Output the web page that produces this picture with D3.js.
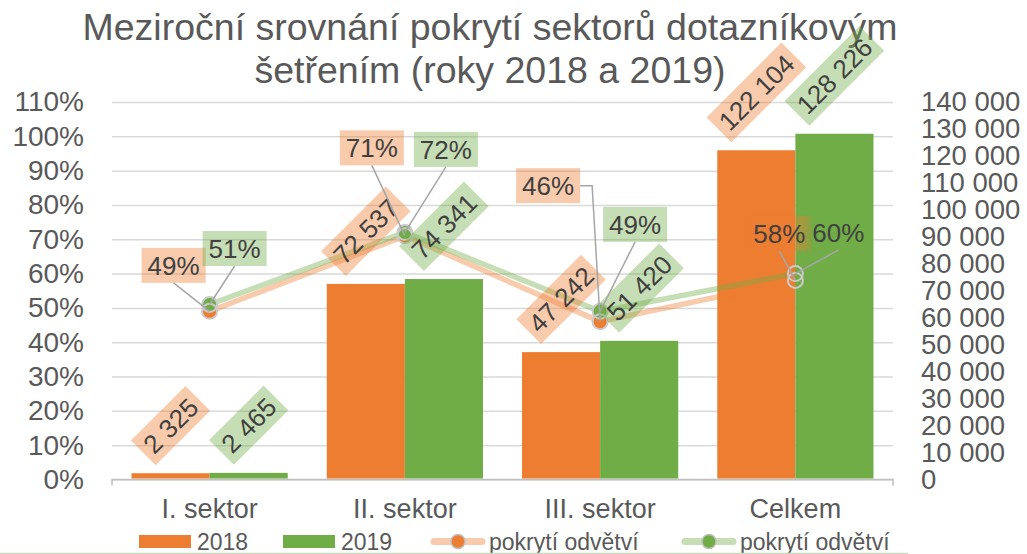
<!DOCTYPE html>
<html>
<head>
<meta charset="utf-8">
<script src="https://cdn.jsdelivr.net/npm/d3@7"></script>
<style>
  html, body { margin: 0; padding: 0; background: #fff; }
  svg { display: block; font-family: "Liberation Sans", Arial, sans-serif; }
</style>
</head>
<body>
<svg id="chart" width="1027" height="554"></svg>
<script>
// ---- data ----
const categories = ["I. sektor", "II. sektor", "III. sektor", "Celkem"];
const years = ["2018", "2019"];
const respondents2018 = [2325, 72537, 47242, 122104];
const respondents2019 = [2465, 74341, 51420, 128226];
const coverage2018 = [0.49, 0.71, 0.46, 0.58];
const coverage2019 = [0.51, 0.72, 0.49, 0.60];
const pctTicks = [0, 0.1, 0.2, 0.3, 0.4, 0.5, 0.6, 0.7, 0.8, 0.9, 1.0, 1.1];
const countTicks = [0, 10000, 20000, 30000, 40000, 50000, 60000, 70000,
                    80000, 90000, 100000, 110000, 120000, 130000, 140000];
const titleLines = ["Meziroční srovnání pokrytí sektorů dotazníkovým",
                    "šetřením (roky 2018 a 2019)"];
const legendLabels = ["2018", "2019", "pokrytí odvětví", "pokrytí odvětví"];

// ---- layout / style ----
const W = 1027, H = 554;
const plot = { left: 112, right: 893, top: 102, bottom: 479.5 };
const colors = { "2018": "#ED7D31", "2019": "#70AD47" };
const soft = { "2018": "rgba(237,125,49,0.4)", "2019": "rgba(112,173,71,0.4)" };
const textGray = "#595959", labelInk = "#404040";
// nudges of the percentage labels relative to their markers [dx, dy, elbow]
const pctLabelNudge = {
  "2018": [[-36, -46, 0], [-33, -88, 0], [-52, -136, 1], [-16, -47, 0]],
  "2019": [[25, -56, 0], [41, -83, 0], [35, -87, 0], [43, -41, 0]]
};

const svg = d3.select("#chart");
const fmtCount = v => d3.format(",")(v).replace(/,/g, " ");
const fmtPct = d3.format(".0%");

const x = d3.scaleBand().domain(categories).range([plot.left, plot.right])
  .paddingInner(0.2).paddingOuter(0.1);
const xs = d3.scaleBand().domain(years).range([0, x.bandwidth()]);
const yPct = d3.scaleLinear().domain([0, 1.1]).range([plot.bottom, plot.top]);
const yCnt = d3.scaleLinear().domain([0, 140000]).range([plot.bottom, plot.top]);

const counts = { "2018": respondents2018, "2019": respondents2019 };
const coverage = { "2018": coverage2018, "2019": coverage2019 };

// ---- title ----
svg.append("g").selectAll("text").data(titleLines).join("text")
  .attr("x", 490).attr("y", (d, i) => 40 + i * 43)
  .attr("text-anchor", "middle")
  .attr("font-size", 37.5).attr("fill", textGray)
  .text(d => d);

// ---- left axis with gridlines ----
const gLeft = svg.append("g").attr("transform", `translate(${plot.left},0)`)
  .call(d3.axisLeft(yPct).tickValues(pctTicks).tickFormat(fmtPct)
    .tickSizeInner(-(plot.right - plot.left)).tickSizeOuter(0).tickPadding(28));
gLeft.select(".domain").remove();
gLeft.selectAll(".tick line").attr("stroke", "#d9d9d9").attr("stroke-width", 1.5);
gLeft.selectAll(".tick text").attr("font-size", 28).attr("fill", textGray)
  .attr("font-family", "Liberation Sans, Arial, sans-serif");

// ---- right axis ----
const gRight = svg.append("g").attr("transform", `translate(${plot.right},0)`)
  .call(d3.axisRight(yCnt).tickValues(countTicks).tickFormat(fmtCount)
    .tickSize(0).tickPadding(28));
gRight.select(".domain").remove();
gRight.selectAll(".tick text").attr("font-size", 27.5).attr("fill", textGray)
  .attr("font-family", "Liberation Sans, Arial, sans-serif");

// ---- category axis ----
const gBottom = svg.append("g").attr("transform", `translate(0,${plot.bottom})`)
  .call(d3.axisBottom(x).tickSize(0).tickPadding(19));
gBottom.select(".domain").remove();
gBottom.selectAll(".tick text").attr("font-size", 27).attr("fill", textGray)
  .attr("font-family", "Liberation Sans, Arial, sans-serif");
svg.append("path")
  .attr("d", `M${plot.left},${plot.bottom + 6}V${plot.bottom}H${plot.right}V${plot.bottom + 6}`)
  .attr("fill", "none").attr("stroke", "#bfbfbf").attr("stroke-width", 1.5);

// ---- series geometry ----
const markers = [];
years.forEach(yr => coverage[yr].forEach((v, i) => {
  markers.push({ yr, i, v, cx: x(categories[i]) + x.bandwidth() / 2, cy: yPct(v) });
}));

// marker fills sit beneath the columns
const gMarkFill = svg.append("g");
gMarkFill.selectAll("circle").data(markers).join("circle")
  .attr("cx", d => d.cx).attr("cy", d => d.cy).attr("r", 7.5)
  .attr("fill", d => colors[d.yr]);

// ---- columns ----
const gBars = svg.append("g");
years.forEach(yr => {
  gBars.selectAll(`rect.y${yr}`).data(counts[yr]).join("rect")
    .attr("class", `y${yr}`)
    .attr("x", (d, i) => x(categories[i]) + xs(yr))
    .attr("width", xs.bandwidth())
    .attr("y", d => yCnt(d))
    .attr("height", d => plot.bottom - 1 - yCnt(d))
    .attr("fill", colors[yr]);
});

// ---- coverage lines (kept out of the marker disks) ----
const defs = svg.append("defs");
const mask = defs.append("mask").attr("id", "marker-holes")
  .attr("maskUnits", "userSpaceOnUse").attr("x", 0).attr("y", 0)
  .attr("width", W).attr("height", H);
mask.append("rect").attr("width", W).attr("height", H).attr("fill", "#fff");
mask.selectAll("circle").data(markers).join("circle")
  .attr("cx", d => d.cx).attr("cy", d => d.cy).attr("r", 8).attr("fill", "#000");

const line = d3.line()
  .x((d, i) => x(categories[i]) + x.bandwidth() / 2)
  .y(d => yPct(d));
const gLines = svg.append("g").attr("mask", "url(#marker-holes)");
years.forEach(yr => {
  gLines.append("path").datum(coverage[yr])
    .attr("d", line).attr("fill", "none")
    .attr("stroke", soft[yr]).attr("stroke-width", 5.5)
    .attr("stroke-linejoin", "round");
});

// marker outlines
svg.append("g").selectAll("circle").data(markers).join("circle")
  .attr("cx", d => d.cx).attr("cy", d => d.cy).attr("r", 7.5)
  .attr("fill", "none").attr("stroke", "#cacaca").attr("stroke-width", 2);

// ---- data labels ----
const gLeaders = svg.append("g");
const gLabels = svg.append("g");
const boxH = 35, padX = 6, labelSize = 26;

function makeBox(text, fill) {
  const g = gLabels.append("g");
  const r = g.append("rect").attr("fill", fill);
  const t = g.append("text").attr("text-anchor", "middle").attr("dy", "0.36em")
    .attr("font-size", labelSize).attr("fill", labelInk).text(text);
  const w = t.node().getComputedTextLength() + 2 * padX;
  r.attr("x", -w / 2).attr("y", -boxH / 2).attr("width", w).attr("height", boxH);
  return { g, w };
}

// column values, rotated 45° and resting on the column tops
years.forEach(yr => counts[yr].forEach((v, i) => {
  const { g, w } = makeBox(fmtCount(v), soft[yr]);
  const cx = x(categories[i]) + xs(yr) + xs.bandwidth() / 2;
  const cy = yCnt(v) - 8 - (w + boxH) / (2 * Math.SQRT2);
  g.attr("transform", `translate(${cx},${cy}) rotate(-45)`);
}));

// coverage percentages with leader lines
markers.forEach(m => {
  const [dx, dy, elbow] = pctLabelNudge[m.yr][m.i];
  const bx = m.cx + dx, by = m.cy + dy;
  const { g, w } = makeBox(fmtPct(m.v), soft[m.yr]);
  g.attr("transform", `translate(${bx},${by})`);
  const path = elbow
    ? `M${bx + w / 2},${by}H${m.cx - 8}L${m.cx},${m.cy}`
    : `M${bx},${by + boxH / 2}L${m.cx},${m.cy}`;
  gLeaders.append("path").attr("d", path).attr("fill", "none")
    .attr("stroke", "#a6a6a6").attr("stroke-width", 1.5);
});
// leaders are drawn over the boxes
gLeaders.raise();

// ---- legend ----
const legendX = [139, 283, 431, 682];
const legendY = 541.5;
const gLegend = svg.append("g");
legendLabels.forEach((lab, k) => {
  const yr = years[k % 2];
  const g = gLegend.append("g").attr("transform", `translate(${legendX[k]},${legendY})`);
  if (k < 2) {
    g.append("rect").attr("x", 0).attr("y", -6.5).attr("width", 52).attr("height", 13)
      .attr("fill", colors[yr]);
  } else {
    g.append("line").attr("x1", 3).attr("x2", 51).attr("y1", 0).attr("y2", 0)
      .attr("stroke", soft[yr]).attr("stroke-width", 7).attr("stroke-linecap", "round");
    g.append("circle").attr("cx", 27).attr("cy", 0).attr("r", 7)
      .attr("fill", colors[yr]).attr("stroke", "#bfbfbf").attr("stroke-width", 1.5);
  }
  g.append("text").attr("x", 58).attr("y", 8.5)
    .attr("font-size", 23).attr("fill", textGray).text(lab);
});

// frame edge along the bottom
svg.append("line").attr("x1", 0).attr("x2", 908).attr("y1", 553.5).attr("y2", 553.5)
  .attr("stroke", "#c9dbbf").attr("stroke-width", 1.5);
</script>
</body>
</html>
